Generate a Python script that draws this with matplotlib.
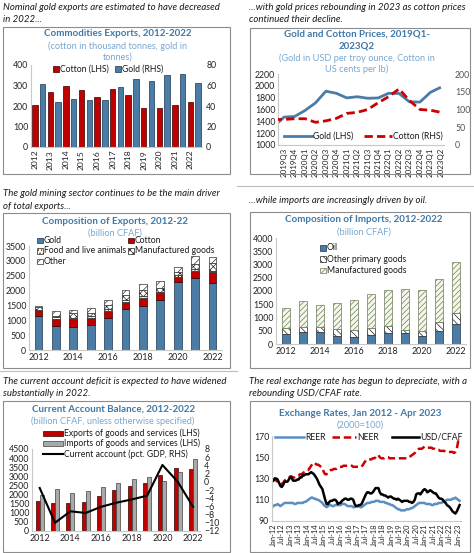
import matplotlib.pyplot as plt
import matplotlib.patches as mpatches
from matplotlib.lines import Line2D

plt.rcParams['font.family'] = ['Lato', 'DejaVu Sans']
plt.rcParams['hatch.linewidth'] = 0.5

# ---------------- data ----------------
years = [str(y) for y in range(2012, 2023)]

# Commodities exports
cotton_kt = [205, 270, 300, 278, 245, 282, 256, 188, 188, 204, 220]
gold_t = [61, 44, 47, 46, 46, 59, 66, 64, 70, 71, 62]

# Gold and cotton prices (first quarter 2019Q2 is cut by the axis)
quarters = ['', '2019Q3', '2019Q4', '2020Q1', '2020Q2', '2020Q3', '2020Q4', '2021Q1', '2021Q2',
            '2021Q3', '2021Q4', '2022Q1', '2022Q2', '2022Q3', '2022Q4', '2023Q1', '2023Q2']
gold_price = [1310, 1472, 1481, 1583, 1711, 1909, 1874, 1796, 1816, 1790, 1795,
              1874, 1871, 1729, 1726, 1890, 1976]
cotton_price = [72, 72, 74, 74, 64, 68, 75, 89, 92, 100, 119, 136, 158, 125, 100, 98, 92]

# Composition of exports (billion CFAF)
exp_gold = [1150, 810, 790, 855, 1070, 1370, 1490, 1670, 2280, 2410, 2240]
exp_cotton = [180, 245, 250, 235, 245, 260, 270, 235, 190, 250, 390]
exp_food = [30, 40, 40, 60, 50, 60, 60, 50, 40, 60, 40]
exp_manuf = [75, 60, 150, 110, 150, 160, 200, 120, 130, 170, 270]
exp_other = [45, 150, 130, 140, 170, 170, 210, 245, 165, 290, 200]

# Composition of imports (billion CFAF)
imp_oil = [375, 450, 440, 315, 265, 340, 410, 410, 285, 500, 770]
imp_prim = [225, 190, 200, 250, 275, 260, 275, 100, 215, 325, 400]
imp_manuf = [750, 1000, 840, 975, 1130, 1280, 1355, 1560, 1520, 1625, 1940]

# Current account
ca_exports = [1650, 1540, 1560, 1600, 1910, 2240, 2480, 2610, 3070, 3450, 3400]
ca_imports = [1950, 2330, 2110, 2200, 2390, 2660, 2850, 2940, 2740, 3215, 3950]
ca_pct_gdp = [-1.5, -10.0, -7.2, -7.6, -6.1, -5.1, -4.3, -3.4, 4.1, 0.0, -6.1]

# Exchange rates, monthly from Jan-12
reer = [104, 105, 105, 106, 105, 104, 105, 106, 107, 107, 107, 107,
        107, 107, 107, 106, 106, 107, 107, 107, 107, 107, 108, 108,
        109, 110, 111, 112, 112, 111, 111, 110, 110, 109, 108, 107,
        105, 104, 103, 104, 105, 105, 104, 104, 105, 105, 105, 105,
        105, 106, 106, 106, 105, 104, 104, 104, 104, 103, 103, 104,
        104, 104, 103, 103, 104, 105, 106, 107, 107, 107, 108, 108,
        108, 109, 109, 109, 108, 108, 108, 108, 107, 107, 106, 106,
        105, 105, 104, 103, 102, 101, 101, 100, 100, 100, 100, 101,
        101, 101, 102, 102, 103, 104, 105, 106, 107, 107, 107, 107,
        107, 106, 106, 106, 106, 105, 105, 106, 106, 106, 107, 107,
        107, 108, 109, 109, 110, 110, 110, 110, 111, 111, 112, 111,
        110, 109]
neer = [128, 130, 128, 127, 125, 124, 125, 126, 128, 129, 129, 130,
        132, 132, 131, 131, 132, 133, 133, 134, 134, 135, 136, 137,
        138, 138, 140, 142, 144, 145, 144, 143, 143, 142, 141, 140,
        136, 134, 134, 136, 137, 138, 138, 139, 139, 139, 140, 141,
        141, 141, 142, 142, 142, 142, 142, 142, 142, 141, 141, 141,
        141, 141, 141, 141, 143, 145, 147, 148, 148, 148, 148, 149,
        149, 150, 152, 152, 150, 149, 149, 149, 150, 150, 150, 149,
        149, 149, 149, 149, 149, 149, 149, 149, 149, 149, 149, 149,
        149, 150, 151, 152, 153, 154, 156, 157, 158, 158, 158, 159,
        160, 159, 159, 159, 159, 159, 158, 158, 157, 157, 157, 156,
        156, 156, 156, 155, 155, 155, 155, 155, 155, 154, 155, 158,
        165, 163]
usd_cfaf = [128, 130, 130, 129, 126, 123, 122, 124, 127, 127, 127, 129,
            131, 131, 128, 128, 128, 129, 129, 131, 131, 133, 133, 134,
            134, 134, 135, 136, 135, 134, 132, 130, 127, 124, 122, 120,
            115, 110, 106, 106, 108, 109, 109, 110, 110, 109, 106, 107,
            107, 109, 110, 111, 111, 110, 110, 111, 111, 110, 106, 104,
            104, 105, 105, 106, 109, 112, 115, 117, 117, 116, 116, 117,
            119, 121, 121, 121, 117, 115, 115, 114, 114, 113, 112, 113,
            113, 112, 111, 111, 110, 111, 110, 109, 108, 109, 109, 109,
            109, 108, 108, 107, 108, 110, 115, 116, 116, 115, 117, 119,
            120, 119, 117, 118, 119, 118, 117, 116, 116, 114, 112, 111,
            111, 110, 108, 107, 105, 104, 103, 101, 99, 98, 97, 99,
            102, 105]
month_labels = []
for y in range(12, 24):
    month_labels += ['Jan-%d' % y, 'Jul-%d' % y]

# ---------------- layout helpers ----------------
W, H = 474, 553
fig = plt.figure(figsize=(W / 100, H / 100), dpi=100)

TITLE_C = '#3d78a8'
SUB_C = '#7aa7cf'
RED = '#c00000'
BLUE = '#4a7ca6'
LEG_FS = 6.2


def ax_at(l, t, r, b):
    return fig.add_axes([l / W, 1 - b / H, (r - l) / W, (b - t) / H])


def txt(x, y, s, **kw):
    kw.setdefault('va', 'center')
    fig.text(x / W, 1 - y / H, s, **kw)


def box(l, t, r, b):
    fig.add_artist(mpatches.Rectangle((l / W, 1 - b / H), (r - l) / W, (b - t) / H,
                                      transform=fig.transFigure, fill=False,
                                      edgecolor='#8c8c8c', lw=0.8))


def leg_patch(x, y, label, s=5.5, **kw):
    fig.add_artist(mpatches.Rectangle((x / W, 1 - (y + s / 2) / H), s / W, s / H,
                                      transform=fig.transFigure, **kw))
    txt(x + s + 1.5, y, label, fontsize=LEG_FS, ha='left', color='#1a1a1a')


def leg_line(x0, x1, y, label, **kw):
    fig.add_artist(Line2D([x0 / W, x1 / W], [1 - y / H, 1 - y / H],
                          transform=fig.transFigure, **kw))
    txt(x1 + 1, y, label, fontsize=LEG_FS, ha='left', color='#1a1a1a')


def style(ax):
    for s in ['top', 'right']:
        ax.spines[s].set_visible(False)
    ax.spines['left'].set_color('#c8c8c8')
    ax.spines['bottom'].set_color('#c8c8c8')
    ax.tick_params(labelsize=6.3, length=0, pad=2, colors='#222222')
    ax.set_facecolor('none')


def twin_style(ax2):
    for s in ['top', 'left', 'bottom', 'right']:
        ax2.spines[s].set_visible(False)
    ax2.tick_params(labelsize=6.3, length=0, pad=3, colors='#222222')


CAP = dict(fontsize=6.9, style='italic', color='#1a1a1a', ha='left')

# ---------------- captions and boxes ----------------
txt(3, 8, 'Nominal gold exports are estimated to have decreased', **CAP)
txt(3, 20, 'in 2022...', **CAP)
txt(249, 8, '...with gold prices rebounding in 2023 as cotton prices', **CAP)
txt(249, 20, 'continued their decline.', **CAP)
txt(3, 194, 'The gold mining sector continues to be the main driver', **CAP)
txt(3, 206, 'of total exports...', **CAP)
txt(249, 200, '...while imports are increasingly driven by oil.', **CAP)
txt(3, 381, 'The current account deficit is expected to have widened', **CAP)
txt(3, 393, 'substantially in 2022.', **CAP)
txt(249, 381, 'The real exchange rate has begun to depreciate, with a', **CAP)
txt(249, 393, 'rebounding USD/CFAF rate.', **CAP)

fig.add_artist(Line2D([237 / W, 1], [1 - 186 / H, 1 - 186 / H], transform=fig.transFigure,
                      color='#bdbdbd', lw=0.8))
fig.add_artist(Line2D([0, 237 / W], [1 - 371 / H, 1 - 371 / H], transform=fig.transFigure,
                      color='#bdbdbd', lw=0.8))

box(3, 27, 230, 174)
box(250, 28, 470, 174)
box(3, 213, 230, 368)
box(250, 212, 470, 368)
box(3, 401, 230, 552)
box(250, 401, 470, 552)

TT = dict(fontsize=7.0, fontweight='bold', color=TITLE_C, ha='center')
ST = dict(fontsize=6.6, color=SUB_C, ha='center')

# ---------------- panel 1: commodities exports ----------------
txt(118, 34, 'Commodities Exports, 2012-2022', **TT)
txt(118, 46, '(cotton in thousand tonnes, gold in', **ST)
txt(118, 57, 'tonnes)', **ST)

ax = ax_at(31, 65, 202, 147)
style(ax)
x = list(range(len(years)))
ax.bar([i - 0.25 for i in x], cotton_kt, width=0.35, color=RED, edgecolor='#300000', lw=0.5)
ax.set_ylim(0, 400)
ax.set_yticks([0, 100, 200, 300, 400])
ax.set_xlim(-0.5, 10.5)
ax.set_xticks([i - 0.25 for i in x])
ax.set_xticklabels(years, rotation=90, fontsize=6.1)
ax2 = ax.twinx()
twin_style(ax2)
ax2.bar([i + 0.25 for i in x], gold_t, width=0.35, color=BLUE, edgecolor='#1c3550', lw=0.5)
ax2.set_ylim(0, 80)
ax2.set_yticks([0, 20, 40, 60, 80])
leg_patch(53, 69, 'Cotton (LHS)', facecolor=RED, edgecolor='#300000', lw=0.5)
leg_patch(115, 69, 'Gold (RHS)', facecolor=BLUE, edgecolor='#1c3550', lw=0.5)

# ---------------- panel 2: gold and cotton prices ----------------
txt(357, 34, 'Gold and Cotton Prices, 2019Q1-', **TT)
txt(357, 46, '2023Q2', **TT)
txt(357, 58, '(Gold in USD per troy ounce, Cotton in', **ST)
txt(357, 69, 'US cents per lb)', **ST)

ax = ax_at(278, 74, 444, 145)
style(ax)
qx = [i - 1 for i in range(len(quarters))]
ax.plot(qx, gold_price, color=BLUE, lw=2.0, solid_capstyle='butt')
ax.set_ylim(1000, 2200)
ax.set_yticks(range(1000, 2201, 200))
ax.set_xlim(-0.58, 15.3)
ax.set_xticks(qx[1:])
ax.set_xticklabels(quarters[1:], rotation=90, fontsize=5.7)
ax2 = ax.twinx()
twin_style(ax2)
ax2.plot(qx, cotton_price, color='#cc0000', lw=2.0, ls=(0, (3, 1.5)))
ax2.set_ylim(0, 200)
ax2.set_yticks([0, 50, 100, 150, 200])
ax2.tick_params(colors='#555555', pad=8)
leg_line(284, 312, 136, 'Gold (LHS)', color=BLUE, lw=2.0)
leg_line(364, 392, 136, 'Cotton (RHS)', color='#cc0000', lw=2.0, ls=(0, (3, 1.5)))

# ---------------- panel 3: composition of exports ----------------
txt(115, 221, 'Composition of Exports, 2012-22', **TT)
txt(115, 233, '(billion CFAF)', **ST)

ax = ax_at(29, 246, 222, 350)
style(ax)
w = 0.45
bottom = [0] * len(years)
layers = [
    (exp_gold, dict(facecolor=BLUE, edgecolor='#1c3550', lw=0.5)),
    (exp_cotton, dict(facecolor=RED, edgecolor='#300000', lw=0.5)),
    (exp_food, dict(facecolor='#fffbe6', edgecolor='#222222', lw=0.5, hatch='.....')),
    (exp_manuf, dict(facecolor='white', edgecolor='#222222', lw=0.5, hatch='xxxxx')),
    (exp_other, dict(facecolor='white', edgecolor='#333333', lw=0.5, hatch='////')),
]
for vals, kw in layers:
    ax.bar(x, vals, width=w, bottom=bottom, **kw)
    bottom = [b + v for b, v in zip(bottom, vals)]
ax.set_ylim(0, 3500)
ax.set_yticks(range(0, 3501, 500))
ax.set_xlim(-0.55, 10.55)
ax.set_xticks(x[::2])
ax.set_xticklabels(years[::2], fontsize=6.4)
leg_patch(37, 240.5, 'Gold', **layers[0][1])
leg_patch(128, 240.5, 'Cotton', **layers[1][1])
leg_patch(37, 251, 'Food and live animals', **layers[2][1])
leg_patch(128, 251, 'Manufactured goods', **layers[3][1])
leg_patch(37, 261.5, 'Other', **layers[4][1])

# ---------------- panel 4: composition of imports ----------------
txt(364, 220, 'Composition of Imports, 2012-2022', **TT)
txt(364, 232, '(billion CFAF)', **ST)

ax = ax_at(276, 238, 466, 344)
style(ax)
w = 0.46
bottom = [0] * len(years)
layers = [
    (imp_oil, dict(facecolor=BLUE, edgecolor='#1c3550', lw=0.5)),
    (imp_prim, dict(facecolor='white', edgecolor='#222222', lw=0.5, hatch='\\\\\\\\\\')),
    (imp_manuf, dict(facecolor='#f4f8ea', edgecolor='#6d7d5a', lw=0.5, hatch='//////')),
]
for vals, kw in layers:
    ax.bar(x, vals, width=w, bottom=bottom, **kw)
    bottom = [b + v for b, v in zip(bottom, vals)]
ax.set_ylim(0, 4000)
ax.set_yticks(range(0, 4001, 500))
ax.set_xlim(-0.6, 10.6)
ax.set_xticks(x[::2])
ax.set_xticklabels(years[::2], fontsize=6.4)
leg_patch(320, 248, 'Oil', **layers[0][1])
leg_patch(320, 259, 'Other primary goods', **layers[1][1])
leg_patch(320, 270.5, 'Manufactured goods', **layers[2][1])

# ---------------- panel 5: current account ----------------
txt(113, 409, 'Current Account Balance, 2012-2022', **TT)
txt(113, 421.5, '(billion CFAF, unless otherwise specified)', **ST)

ax = ax_at(32, 449, 200, 531)
style(ax)
ax.bar([i - 0.13 for i in x], ca_exports, width=0.25, color=RED, edgecolor='#300000', lw=0.5)
ax.bar([i + 0.13 for i in x], ca_imports, width=0.25, color='#a9a9a9', edgecolor='#404040', lw=0.5)
ax.set_ylim(0, 4500)
ax.set_yticks(range(0, 4501, 500))
ax.set_xlim(-0.5, 10.45)
ax.set_xticks(x[::2])
ax.set_xticklabels(years[::2], fontsize=6.4)
ax2 = ax.twinx()
twin_style(ax2)
ax2.plot(x, ca_pct_gdp, color='black', lw=1.5)
ax2.set_ylim(-12, 8)
ax2.set_yticks(range(-12, 9, 2))
fig.add_artist(mpatches.Rectangle((43 / W, 1 - 435.5 / H), 20 / W, 5 / H, transform=fig.transFigure,
                                  facecolor=RED, edgecolor='#300000', lw=0.5))
txt(64.5, 433, 'Exports of goods and services (LHS)', fontsize=LEG_FS, ha='left', color='#1a1a1a')
fig.add_artist(mpatches.Rectangle((43 / W, 1 - 445.5 / H), 20 / W, 5 / H, transform=fig.transFigure,
                                  facecolor='#a9a9a9', edgecolor='#404040', lw=0.5))
txt(64.5, 443, 'Imports of goods and services (LHS)', fontsize=LEG_FS, ha='left', color='#1a1a1a')
leg_line(43, 63, 454, 'Current account (pct. GDP, RHS)', color='black', lw=1.5)

# ---------------- panel 6: exchange rates ----------------
txt(360, 413, 'Exchange Rates, Jan 2012 - Apr 2023', **TT)
txt(360, 425, '(2000=100)', **ST)

ax = ax_at(272, 436, 461, 521)
style(ax)
mx = list(range(len(reer)))
ax.plot(mx, reer, color='#5b8ec2', lw=1.8)
ax.plot(mx, neer, color='#cc0000', lw=1.8, ls=(0, (3, 1.5)))
ax.plot(mx, usd_cfaf, color='black', lw=1.8)
ax.set_ylim(90, 170)
ax.set_yticks([90, 110, 130, 150, 170])
ax.set_xlim(-1, 134)
ax.set_xticks(range(0, 133, 6))
ax.set_xticklabels(month_labels[:23], rotation=90, fontsize=5.4)
leg_line(275, 304, 437, 'REER', color='#5b8ec2', lw=1.8)
leg_line(332, 356, 437, 'NEER', color='#cc0000', lw=1.8, ls=(0, (3, 1.5)))
leg_line(392, 419, 437, 'USD/CFAF', color='black', lw=1.8)

fig.savefig('out.png', dpi=100)
